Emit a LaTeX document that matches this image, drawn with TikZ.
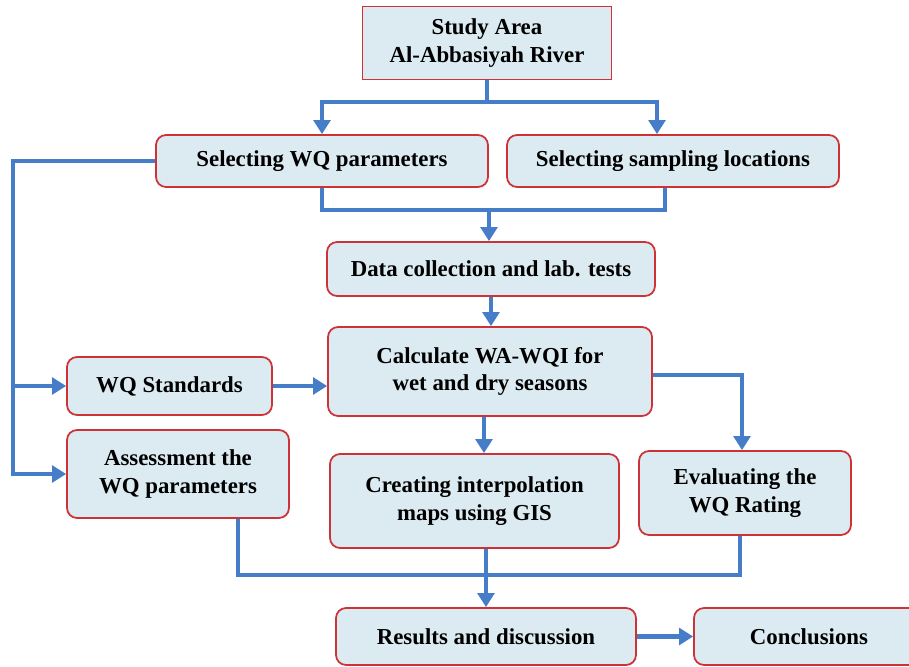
\documentclass[tikz,border=0pt]{standalone}
\usepackage{fontspec}
\setmainfont{Liberation Serif}
\usepackage{xcolor}
\usepackage{tikz}
\usetikzlibrary{arrows.meta}

\definecolor{boxfill}{RGB}{220,235,242}
\definecolor{boxline}{RGB}{205,50,55}
\definecolor{flowblue}{RGB}{70,125,200}

\begin{document}
\begin{tikzpicture}[
  x=0.02cm, y=-0.02cm,
  stage/.style={rectangle, draw=boxline, line width=1pt, rounded corners=0.2cm,
                fill=boxfill, align=center, inner sep=0pt,
                font=\bfseries\fontsize{13}{15.5}\selectfont},
  link/.style={line width=2.6pt, flowblue},
  flow/.style={link, -{Triangle[length=8pt,width=9.5pt]}}
]
\useasboundingbox (0,0) rectangle (909,666);

\node[stage, sharp corners, minimum width=4.98cm, minimum height=1.46cm] (area) at (487,43) {Study Area\\Al-Abbasiyah River};
\node[stage, minimum width=6.64cm, minimum height=1.04cm] (param) at (322,161) {Selecting WQ parameters};
\node[stage, minimum width=6.64cm, minimum height=1.04cm] (loc) at (673,161) {Selecting sampling locations};
\node[stage, minimum width=6.56cm, minimum height=1.08cm] (data) at (491,269) {Data collection and lab. tests};
\node[stage, minimum width=6.48cm, minimum height=1.78cm] (wqi) at (490,371.5) {Calculate WA-WQI for\\wet and dry seasons};
\node[stage, minimum width=4.10cm, minimum height=1.16cm] (std) at (169.5,386) {WQ Standards};
\node[stage, minimum width=4.44cm, minimum height=1.76cm] (assess) at (178,474) {Assessment the\\WQ parameters};
\node[stage, minimum width=5.78cm, minimum height=1.88cm] (maps) at (474.5,501) {Creating interpolation\\maps using GIS};
\node[stage, minimum width=4.24cm, minimum height=1.68cm] (rating) at (745,493) {Evaluating the\\WQ Rating};
\node[stage, minimum width=6.00cm, minimum height=1.14cm] (results) at (486,636.5) {Results and discussion};
\node[stage, minimum width=4.60cm, minimum height=1.14cm] (concl) at (809,636.5) {Conclusions};

\coordinate (t1) at (area.south |- 0,102);
\coordinate (t2) at (489,210);
\coordinate (t3) at (486,575);
\coordinate (rail) at (13,161);

% top split
\draw[link] (area.south) -- (t1);
\draw[flow] (t1) -| (param.north);
\draw[flow] (t1) -| ([xshift=-0.32cm]loc.north);

% merge into data collection
\draw[link] (param.south) |- (t2) -| ([xshift=-0.16cm]loc.south);
\draw[flow] (t2) -- (t2 |- data.north);
\draw[flow] (data.south) -- (data.south |- wqi.north);

% left rail
\draw[flow] (param.west) -- (rail) |- (assess.west);
\draw[flow] (rail |- std.west) -- (std.west);
\draw[flow] (std.east) -- (std.east -| wqi.west);

% from the index
\draw[flow] ([yshift=-0.07cm]wqi.east) -| ([xshift=-0.06cm]rating.north);
\draw[flow] ([xshift=-0.12cm]wqi.south) -- ([xshift=-0.12cm]wqi.south |- maps.north);

% bottom merge
\draw[link] ([xshift=1.2cm]assess.south) |- (t3) -| ([xshift=-0.1cm]rating.south);
\draw[link] (maps.south -| t3) -- (t3);
\draw[flow] (t3) -- (t3 |- results.north);
\draw[flow] (results) -- (concl);

\end{tikzpicture}
\end{document}
